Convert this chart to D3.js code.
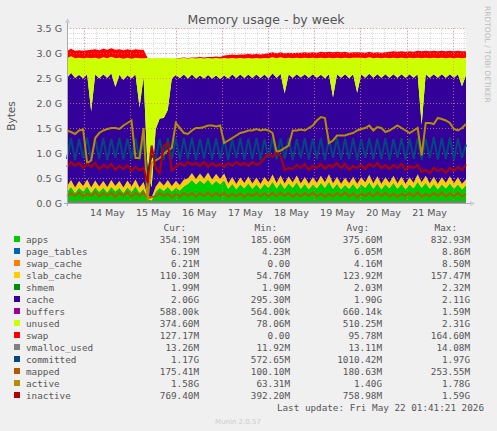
<!DOCTYPE html>
<html><head><meta charset="utf-8">
<script src="https://cdn.jsdelivr.net/npm/d3@7"></script>
<style>body{margin:0;background:#F0F0F0}svg{display:block}</style>
</head><body><svg id="c" width="497" height="431"></svg>
<script>
const apps=[0.22,0.32,0.2,0.3,0.23,0.33,0.2,0.31,0.22,0.3,0.21,0.32,0.23,0.3,0.2,0.31,0.22,0.33,0.2,0.28,
0.08,0.05,0.22,0.3,0.24,0.32,0.23,0.3,0.25,0.33,0.38,0.46,0.37,0.45,0.38,0.47,0.36,0.44,0.37,0.45,
0.28,0.38,0.27,0.37,0.29,0.39,0.28,0.37,0.27,0.38,0.3,0.42,0.29,0.4,0.28,0.39,0.3,0.41,0.28,0.38,
0.27,0.37,0.29,0.4,0.3,0.42,0.28,0.38,0.27,0.36,0.28,0.38,0.27,0.37,0.3,0.41,0.28,0.39,0.27,0.37,
0.29,0.4,0.28,0.38,0.27,0.37,0.29,0.42,0.3,0.4,0.28,0.38,0.27,0.37,0.29,0.39,0.28,0.37,0.27,0.35];
const pageTables=[0.006,0.006,0.006,0.006,0.006,0.006,0.006,0.006,0.006,0.006,0.006,0.006,0.006,0.006,0.006,0.006,0.006,0.006,0.006,0.006,
0.005,0.004,0.005,0.006,0.006,0.006,0.006,0.006,0.006,0.006,0.006,0.006,0.006,0.006,0.006,0.006,0.006,0.006,0.006,0.006,
0.006,0.006,0.006,0.006,0.006,0.006,0.006,0.006,0.006,0.006,0.006,0.006,0.006,0.006,0.006,0.006,0.006,0.006,0.006,0.006,
0.006,0.006,0.006,0.006,0.006,0.006,0.006,0.006,0.006,0.006,0.006,0.006,0.006,0.006,0.006,0.006,0.006,0.006,0.006,0.006,
0.006,0.006,0.006,0.006,0.006,0.006,0.006,0.006,0.006,0.006,0.006,0.006,0.006,0.006,0.006,0.006,0.006,0.006,0.006,0.006];
const swapCache=[0.004,0.004,0.004,0.004,0.004,0.004,0.004,0.004,0.004,0.004,0.004,0.004,0.004,0.004,0.004,0.004,0.004,0.004,0.004,0.004,
0.0,0.0,0.0,0.0,0.0,0.0,0.0,0.001,0.001,0.001,0.001,0.001,0.001,0.001,0.001,0.001,0.001,0.002,0.002,0.002,
0.003,0.003,0.003,0.003,0.003,0.003,0.003,0.003,0.003,0.003,0.004,0.004,0.004,0.004,0.004,0.004,0.004,0.004,0.004,0.004,
0.005,0.005,0.005,0.005,0.005,0.005,0.005,0.005,0.005,0.005,0.005,0.005,0.005,0.005,0.005,0.005,0.005,0.005,0.005,0.005,
0.006,0.006,0.006,0.006,0.006,0.006,0.006,0.006,0.006,0.006,0.006,0.006,0.006,0.006,0.006,0.006,0.006,0.006,0.006,0.006];
const slabCache=[0.1,0.13,0.1,0.13,0.1,0.13,0.1,0.13,0.1,0.13,0.1,0.13,0.1,0.13,0.1,0.13,0.1,0.13,0.1,0.13,
0.06,0.06,0.1,0.13,0.1,0.13,0.1,0.13,0.1,0.13,0.1,0.13,0.1,0.13,0.1,0.13,0.1,0.13,0.1,0.13,
0.1,0.13,0.1,0.13,0.1,0.13,0.1,0.13,0.1,0.13,0.1,0.14,0.1,0.14,0.1,0.13,0.1,0.13,0.1,0.13,
0.1,0.13,0.1,0.13,0.1,0.14,0.1,0.13,0.1,0.13,0.1,0.13,0.1,0.13,0.1,0.14,0.1,0.13,0.1,0.13,
0.1,0.13,0.1,0.13,0.1,0.13,0.1,0.14,0.1,0.13,0.1,0.13,0.1,0.13,0.1,0.13,0.1,0.13,0.1,0.11];
const shmem=[0.002,0.002,0.002,0.002,0.002,0.002,0.002,0.002,0.002,0.002,0.002,0.002,0.002,0.002,0.002,0.002,0.002,0.002,0.002,0.002,
0.002,0.002,0.002,0.002,0.002,0.002,0.002,0.002,0.002,0.002,0.002,0.002,0.002,0.002,0.002,0.002,0.002,0.002,0.002,0.002,
0.002,0.002,0.002,0.002,0.002,0.002,0.002,0.002,0.002,0.002,0.002,0.002,0.002,0.002,0.002,0.002,0.002,0.002,0.002,0.002,
0.002,0.002,0.002,0.002,0.002,0.002,0.002,0.002,0.002,0.002,0.002,0.002,0.002,0.002,0.002,0.002,0.002,0.002,0.002,0.002,
0.002,0.002,0.002,0.002,0.002,0.002,0.002,0.002,0.002,0.002,0.002,0.002,0.002,0.002,0.002,0.002,0.002,0.002,0.002,0.002];
const cache=[2.17,2.14,2.19,2.12,2.15,2.1,1.52,2.12,2.16,2.13,2.18,2.13,1.98,2.12,2.15,2.1,2.16,2.1,1.6,2.1,
0.5,0.2,1.15,1.25,1.35,1.4,2.15,2.12,2.14,2.1,2.0,1.97,2.01,1.96,2.0,1.95,2.02,1.97,2.0,1.96,
2.1,2.05,2.12,2.06,2.1,2.04,2.11,2.06,2.12,2.05,2.08,2.02,2.1,2.03,1.8,2.04,2.09,2.02,2.12,2.05,
2.12,2.06,2.1,2.02,2.08,2.0,1.72,2.05,2.12,2.07,2.1,2.05,1.82,2.06,2.09,2.02,2.11,2.04,2.12,2.06,
2.1,2.03,2.11,2.05,2.12,2.06,2.1,2.0,1.15,2.03,2.11,2.05,2.12,2.06,2.1,2.04,2.11,2.06,1.95,2.08];
const buffers=[0.001,0.001,0.001,0.001,0.001,0.001,0.001,0.001,0.001,0.001,0.001,0.001,0.001,0.001,0.001,0.001,0.001,0.001,0.001,0.001,
0.001,0.001,0.001,0.001,0.001,0.001,0.001,0.001,0.001,0.001,0.001,0.001,0.001,0.001,0.001,0.001,0.001,0.001,0.001,0.001,
0.001,0.001,0.001,0.001,0.001,0.001,0.001,0.001,0.001,0.001,0.001,0.001,0.001,0.001,0.001,0.001,0.001,0.001,0.001,0.001,
0.001,0.001,0.001,0.001,0.001,0.001,0.001,0.001,0.001,0.001,0.001,0.001,0.001,0.001,0.001,0.001,0.001,0.001,0.001,0.001,
0.001,0.001,0.001,0.001,0.001,0.001,0.001,0.001,0.001,0.001,0.001,0.001,0.001,0.001,0.001,0.001,0.001,0.001,0.001,0.001];
const unused=[0.39,0.33,0.39,0.34,0.4,0.33,1.06,0.33,0.39,0.34,0.39,0.33,0.57,0.34,0.42,0.35,0.39,0.33,0.98,0.37,
2.25,2.58,1.42,1.21,1.2,1.04,0.4,0.34,0.39,0.33,0.4,0.33,0.4,0.35,0.4,0.34,0.4,0.35,0.41,0.35,
0.4,0.33,0.39,0.33,0.39,0.33,0.39,0.33,0.39,0.33,0.4,0.32,0.39,0.33,0.7,0.33,0.39,0.33,0.38,0.33,
0.39,0.33,0.39,0.34,0.4,0.33,0.78,0.33,0.39,0.33,0.4,0.33,0.7,0.33,0.39,0.33,0.39,0.33,0.39,0.33,
0.39,0.33,0.39,0.33,0.39,0.33,0.39,0.33,1.33,0.33,0.39,0.33,0.39,0.33,0.39,0.33,0.39,0.33,0.56,0.35];
const swap=[0.15,0.15,0.15,0.15,0.15,0.15,0.17,0.17,0.17,0.17,0.17,0.17,0.17,0.17,0.17,0.17,0.17,0.17,0.17,0.17,
0.0,0.0,0.0,0.0,0.0,0.0,0.0,0.0,0.01,0.01,0.01,0.01,0.02,0.02,0.02,0.02,0.03,0.03,0.03,0.05,
0.07,0.07,0.07,0.07,0.08,0.08,0.08,0.08,0.08,0.08,0.1,0.1,0.1,0.1,0.1,0.1,0.1,0.1,0.11,0.11,
0.11,0.11,0.11,0.12,0.12,0.12,0.12,0.12,0.12,0.12,0.11,0.11,0.11,0.11,0.11,0.11,0.11,0.11,0.11,0.11,
0.13,0.13,0.13,0.13,0.13,0.13,0.13,0.14,0.14,0.14,0.14,0.14,0.14,0.14,0.14,0.14,0.14,0.14,0.14,0.13];
const vmallocUsed=[0.013,0.013,0.013,0.013,0.013,0.013,0.013,0.013,0.013,0.013,0.013,0.013,0.013,0.013,0.013,0.013,0.013,0.013,0.013,0.013,
0.012,0.012,0.013,0.013,0.013,0.013,0.013,0.013,0.013,0.013,0.013,0.013,0.013,0.013,0.013,0.013,0.013,0.013,0.013,0.013,
0.013,0.013,0.013,0.013,0.013,0.013,0.013,0.013,0.013,0.013,0.013,0.013,0.013,0.013,0.013,0.013,0.013,0.013,0.013,0.013,
0.013,0.013,0.013,0.013,0.013,0.013,0.013,0.013,0.013,0.013,0.013,0.013,0.013,0.013,0.013,0.013,0.013,0.013,0.013,0.013,
0.013,0.013,0.013,0.013,0.013,0.013,0.013,0.013,0.013,0.013,0.013,0.013,0.013,0.013,0.013,0.013,0.013,0.013,0.013,0.013];
const committed=[0.88,1.3,0.86,1.28,0.9,1.31,0.87,1.29,0.88,1.3,0.86,1.28,0.9,1.3,0.87,1.29,0.88,1.3,0.86,1.27,
0.6,0.95,0.88,1.28,0.86,1.3,0.88,1.29,0.87,1.3,0.88,1.31,0.86,1.28,0.89,1.3,0.87,1.29,0.88,1.3,
0.86,1.28,0.9,1.3,0.87,1.29,0.88,1.3,0.86,1.28,0.9,1.31,0.87,1.29,0.88,1.3,0.86,1.28,0.9,1.3,
0.87,1.29,0.88,1.3,0.86,1.28,0.9,1.3,0.87,1.29,0.88,1.3,0.86,1.28,0.9,1.3,0.87,1.29,0.88,1.3,
0.86,1.28,0.9,1.3,0.87,1.29,0.88,1.3,0.86,1.28,0.9,1.32,0.87,1.3,0.88,1.31,0.86,1.29,0.9,1.17];
const mapped=[0.13,0.2,0.14,0.21,0.13,0.19,0.14,0.22,0.13,0.2,0.14,0.21,0.12,0.2,0.14,0.22,0.13,0.2,0.14,0.21,
0.1,0.12,0.13,0.2,0.14,0.19,0.11,0.18,0.13,0.2,0.14,0.2,0.13,0.19,0.14,0.21,0.13,0.2,0.14,0.2,
0.12,0.18,0.13,0.19,0.12,0.18,0.14,0.2,0.13,0.19,0.14,0.2,0.13,0.21,0.14,0.2,0.12,0.19,0.13,0.2,
0.14,0.21,0.13,0.19,0.12,0.18,0.13,0.2,0.14,0.21,0.13,0.19,0.12,0.18,0.14,0.2,0.13,0.21,0.14,0.2,
0.13,0.19,0.12,0.18,0.14,0.2,0.13,0.21,0.12,0.18,0.13,0.2,0.14,0.21,0.13,0.19,0.14,0.2,0.13,0.18];
const active=[1.45,1.42,1.38,1.45,1.47,0.8,0.85,1.3,1.4,1.45,1.48,1.5,1.5,1.48,1.55,1.6,1.65,0.9,0.9,1.5,
0.05,0.8,0.85,0.9,0.98,1.05,1.1,1.6,1.5,1.4,1.38,1.45,1.5,1.5,1.52,1.55,1.55,1.53,1.55,1.2,
1.25,1.3,1.35,1.4,1.42,1.45,1.45,1.48,1.45,1.47,1.45,1.4,1.02,1.05,1.1,1.15,1.45,1.45,1.47,1.45,
1.5,1.55,1.65,1.72,1.7,1.2,1.25,1.35,1.35,1.35,1.38,1.4,1.45,1.48,1.5,1.55,1.45,1.52,1.5,1.42,
1.45,1.5,1.55,1.5,1.45,1.4,1.45,1.5,0.95,1.6,1.6,1.58,1.7,1.68,1.65,1.6,1.48,1.45,1.5,1.58];
const inactive=[0.72,0.82,0.74,0.8,0.7,0.78,0.72,0.8,0.68,0.76,0.7,0.78,0.66,0.74,0.68,0.76,0.64,0.72,0.66,0.7,
0.4,1.15,0.7,0.6,1.15,1.2,0.65,0.72,0.8,0.74,0.82,0.76,0.8,0.74,0.82,0.72,0.8,0.74,0.78,0.72,
0.8,0.74,0.82,0.76,0.8,0.74,0.82,0.76,0.8,0.9,0.98,0.92,1.0,0.94,0.66,0.7,0.68,0.76,0.7,0.78,
0.66,0.74,0.7,0.78,0.68,0.76,0.72,0.8,0.7,0.78,0.66,0.74,0.7,0.76,0.68,0.78,0.72,0.8,0.7,0.76,
0.68,0.76,0.7,0.78,0.66,0.74,0.7,0.76,0.62,0.66,0.6,0.7,0.64,0.68,0.6,0.7,0.64,0.72,0.66,0.77];
const dayLabels=["14 May","15 May","16 May","17 May","18 May","19 May","20 May","21 May"];
const yTicks=[0,0.5,1,1.5,2,2.5,3,3.5];
const legendNames=["apps","page_tables","swap_cache","slab_cache","shmem","cache","buffers","unused","swap","vmalloc_used","committed","mapped","active","inactive"];
const legendColors=["#00CC00","#0066B3","#FF8000","#FFCC00","#008F00","#330099","#990099","#CCFF00","#FF0000","#808080","#00487D","#B35A00","#B38F00","#B30000"];
const curV=["354.19M","6.19M","6.21M","110.30M","1.99M","2.06G","588.00k","374.60M","127.17M","13.26M","1.17G","175.41M","1.58G","769.40M"];
const minV=["185.06M","4.23M","0.00","54.76M","1.90G","295.30M","564.00k","78.06M","0.00","11.92M","572.65M","100.10M","63.31M","392.20M"];
minV[4]="1.90M";
const avgV=["375.60M","6.05M","4.16M","123.92M","2.03M","1.90G","660.14k","510.25M","95.78M","13.11M","1010.42M","180.63M","1.40G","758.98M"];
const maxV=["832.93M","8.86M","8.50M","157.47M","2.32M","2.11G","1.59M","2.31G","164.60M","14.08M","1.97G","253.55M","1.78G","1.59G"];

const svg=d3.select("#c");
const X0=67,X1=466,Y0=203,Y1=28;
const x=d3.scaleLinear().domain([0,apps.length-1]).range([X0,X1]);
const t=d3.scaleTime().domain([new Date(2026,4,13,15,0),new Date(2026,4,22,7,0)]).range([X0,X1]);
const y=d3.scaleLinear().domain([0,3.5]).range([Y0,Y1]);
svg.append("rect").attr("x",X0).attr("y",Y1).attr("width",X1-X0).attr("height",Y0-Y1).attr("fill","#fff");
// minor grid
for(let v=0.1;v<3.55;v+=0.1){svg.append("line").attr("x1",X0).attr("x2",X1).attr("y1",Math.round(y(v))+0.5).attr("y2",Math.round(y(v))+0.5).attr("stroke","#ddd").attr("stroke-dasharray","1,1");}
const hours=d3.timeHour.every(6).range(t.domain()[0],t.domain()[1]);
hours.forEach(h=>svg.append("line").attr("x1",Math.round(t(h))+0.5).attr("x2",Math.round(t(h))+0.5).attr("y1",Y1).attr("y2",Y0).attr("stroke","#ddd").attr("stroke-dasharray","1,1"));
const stackSeries=[apps,pageTables,swapCache,slabCache,shmem,cache,buffers,unused,swap];
const data=apps.map((_,i)=>{const o={i};stackSeries.forEach((s,k)=>o["k"+k]=s[i]);return o;});
const st=d3.stack().keys(stackSeries.map((_,k)=>"k"+k))(data);
const area=d3.area().x(d=>x(d.data.i)).y0(d=>y(d[0])).y1(d=>y(d[1]));
st.forEach((s,k)=>svg.append("path").attr("d",area(s)).attr("fill",legendColors[k]));
// major grid
yTicks.forEach(v=>{svg.append("line").attr("x1",X0).attr("x2",X1).attr("y1",Math.round(y(v))+0.5).attr("y2",Math.round(y(v))+0.5).attr("stroke","#f08080").attr("stroke-opacity",0.7).attr("stroke-dasharray","1,2");});
d3.timeDay.range(t.domain()[0],t.domain()[1]).forEach(d=>svg.append("line").attr("x1",Math.round(t(d))+0.5).attr("x2",Math.round(t(d))+0.5).attr("y1",Y1).attr("y2",Y0).attr("stroke","#f08080").attr("stroke-opacity",0.7).attr("stroke-dasharray","1,2"));
const lineSeries=[vmallocUsed,committed,mapped,active,inactive];
const line=d3.line().x((d,i)=>x(i)).y(d=>y(d));
lineSeries.forEach((s,k)=>svg.append("path").attr("d",line(s)).attr("fill","none").attr("stroke",legendColors[9+k]).attr("stroke-width",2).attr("stroke-linejoin","miter"));
// axes
svg.append("line").attr("x1",X0-3).attr("x2",X1+4).attr("y1",Y0+0.5).attr("y2",Y0+0.5).attr("stroke","#aaa");
svg.append("line").attr("x1",X0+0.5).attr("x2",X0+0.5).attr("y1",Y0+3).attr("y2",Y1-6).attr("stroke","#aaa");
svg.append("path").attr("d",`M${X0-2},${Y1-5}L${X0+3},${Y1-5}L${X0+0.5},${Y1-10}Z`).attr("fill","#ccd");
svg.append("path").attr("d",`M${X1+4},${Y0-2}L${X1+4},${Y0+3}L${X1+9},${Y0+0.5}Z`).attr("fill","#ccd");
const f="DejaVu Sans";
yTicks.forEach(v=>svg.append("text").attr("x",X0-5).attr("y",y(v)+4).attr("text-anchor","end").attr("font-family",f).attr("font-size",9.5).attr("fill","#555").text(v.toFixed(1)+" G"));
dayLabels.forEach((l,k)=>{const d=new Date(2026,4,14+k,12,0);svg.append("text").attr("x",t(d)).attr("y",216).attr("text-anchor","middle").attr("font-family",f).attr("font-size",9.5).attr("fill","#555").text(l);});
svg.append("text").attr("x",266).attr("y",24).attr("text-anchor","middle").attr("font-family",f).attr("font-size",12.5).attr("fill","#555").text("Memory usage - by week");
svg.append("text").attr("transform","translate(15,116) rotate(-90)").attr("text-anchor","middle").attr("font-family",f).attr("font-size",10.5).attr("fill","#555").text("Bytes");
svg.append("text").attr("transform","translate(485,6) rotate(90)").attr("font-family",f).attr("font-size",7.5).attr("fill","#bbb").text("RRDTOOL / TOBI OETIKER");
const m="DejaVu Sans Mono",fs=9.3;
[["Cur:",186],["Min:",277],["Avg:",369],["Max:",457]].forEach(([h,xx])=>svg.append("text").attr("x",xx).attr("y",231).attr("text-anchor","end").attr("font-family",m).attr("font-size",fs).attr("fill","#555").text(h));
legendNames.forEach((n,k)=>{const yy=243+k*12;
 svg.append("rect").attr("x",14).attr("y",yy-7).attr("width",6).attr("height",6).attr("fill",legendColors[k]);
 svg.append("text").attr("x",26).attr("y",yy).attr("font-family",m).attr("font-size",fs).attr("fill","#555").text(n);
 [[curV,199],[minV,290],[avgV,382],[maxV,470]].forEach(([arr,xx])=>svg.append("text").attr("x",xx).attr("y",yy).attr("text-anchor","end").attr("font-family",m).attr("font-size",fs).attr("fill","#555").text(arr[k]));
});
svg.append("text").attr("x",484).attr("y",411).attr("text-anchor","end").attr("font-family",m).attr("font-size",fs).attr("fill","#555").text("Last update: Fri May 22 01:41:21 2026");
svg.append("text").attr("x",238).attr("y",424).attr("text-anchor","middle").attr("font-family",f).attr("font-size",7).attr("fill","#ccc").text("Munin 2.0.57");
</script></body></html>
